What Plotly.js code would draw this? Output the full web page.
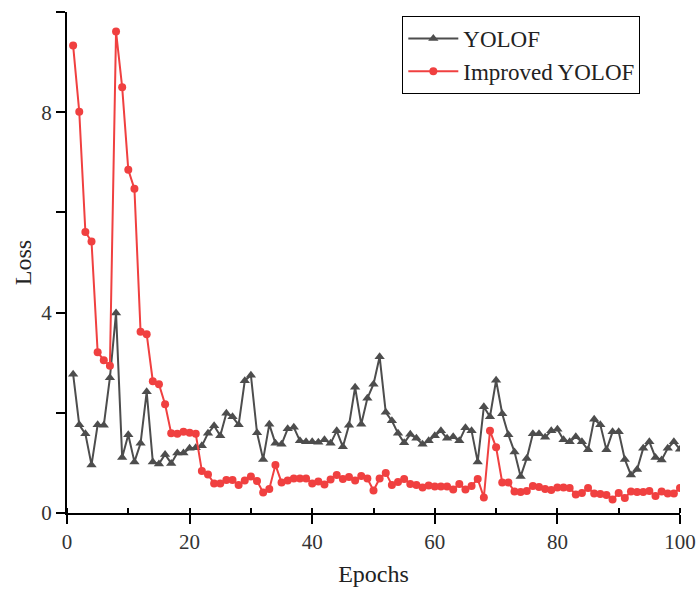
<!DOCTYPE html>
<html>
<head>
<meta charset="utf-8">
<script src="https://cdn.plot.ly/plotly-3.0.1.min.js"></script>
<style>html,body{margin:0;padding:0;background:#fff;}#chart{width:697px;height:590px;}</style>
</head>
<body>
<div id="chart"></div>
<script>
var epochs = [];
for (var i = 1; i <= 100; i++) epochs.push(i);

var yolof = [
2.77,1.76,1.58,0.96,1.76,1.75,2.70,3.99,1.11,1.56,
1.02,1.39,2.42,1.02,0.98,1.17,0.99,1.20,1.20,1.29,
1.30,1.34,1.59,1.74,1.54,1.99,1.92,1.76,2.64,2.75,
1.60,1.07,1.77,1.39,1.37,1.68,1.71,1.44,1.42,1.42,
1.41,1.46,1.39,1.64,1.32,1.75,2.51,1.77,2.29,2.57,
3.12,2.01,1.84,1.59,1.40,1.57,1.49,1.37,1.44,1.54,
1.64,1.49,1.52,1.44,1.70,1.64,1.02,2.12,1.92,2.65,
1.98,1.56,1.22,0.73,1.09,1.58,1.58,1.51,1.64,1.67,
1.46,1.42,1.52,1.42,1.26,1.87,1.76,1.26,1.62,1.62,
1.07,0.76,0.87,1.29,1.42,1.11,1.06,1.29,1.42,1.27
];

var improved = [
9.33,8.01,5.61,5.42,3.21,3.05,2.94,9.61,8.50,6.85,
6.47,3.62,3.57,2.63,2.57,2.17,1.59,1.58,1.62,1.60,
1.58,0.84,0.77,0.59,0.59,0.66,0.66,0.56,0.65,0.73,
0.64,0.41,0.48,0.96,0.61,0.65,0.69,0.69,0.69,0.59,
0.63,0.57,0.67,0.76,0.68,0.72,0.65,0.74,0.69,0.45,
0.69,0.80,0.56,0.62,0.68,0.58,0.56,0.51,0.55,0.53,
0.53,0.53,0.47,0.58,0.47,0.54,0.68,0.31,1.64,1.31,
0.61,0.61,0.43,0.42,0.44,0.54,0.52,0.48,0.46,0.51,
0.51,0.50,0.37,0.40,0.50,0.39,0.38,0.36,0.27,0.40,
0.30,0.43,0.42,0.42,0.44,0.34,0.43,0.39,0.39,0.50
];

var seriesNames = ["YOLOF", "Improved YOLOF"];
var xTickVals = [0, 20, 40, 60, 80, 100];
var yTickVals = [0, 4, 8];

var FONT = "Liberation Serif, DejaVu Serif, serif";

var traces = [
  {
    x: epochs, y: yolof, name: seriesNames[0], type: "scatter", mode: "lines+markers",
    line: {color: "#4d4d4d", width: 2},
    marker: {symbol: "triangle-up", size: 9, color: "#4d4d4d"}
  },
  {
    x: epochs, y: improved, name: seriesNames[1], type: "scatter", mode: "lines+markers",
    line: {color: "#f04040", width: 2},
    marker: {symbol: "circle", size: 8, color: "#f04040"}
  }
];

var layout = {
  width: 697, height: 590,
  margin: {l: 67, r: 17, t: 12, b: 77},
  paper_bgcolor: "#fff", plot_bgcolor: "#fff",
  font: {family: FONT, color: "#222", size: 21},
  showlegend: true,
  legend: {
    x: 0.547, y: 0.992, xanchor: "left", yanchor: "top",
    bordercolor: "#000", borderwidth: 1, bgcolor: "#fff",
    font: {family: FONT, size: 23, color: "#222"},
    tracegroupgap: 0, itemwidth: 50
  },
  xaxis: {
    range: [0, 100], tickvals: xTickVals, ticks: "outside", ticklen: 9, tickwidth: 2,
    tickcolor: "#000", showline: true, linecolor: "#000", linewidth: 2,
    showgrid: false, zeroline: false,
    minor: {dtick: 10, tick0: 0, ticks: "inside", ticklen: 5, tickwidth: 2, tickcolor: "#000", showgrid: false},
    tickfont: {family: FONT, size: 21, color: "#333"},
    title: {text: "Epochs", font: {family: FONT, size: 24, color: "#222"}, standoff: 12}
  },
  yaxis: {
    range: [0, 10], tickvals: yTickVals, ticks: "outside", ticklen: 9, tickwidth: 2,
    tickcolor: "#000", showline: true, linecolor: "#000", linewidth: 2,
    showgrid: false, zeroline: false,
    minor: {dtick: 2, tick0: 0, ticks: "outside", ticklen: 9, tickwidth: 2, tickcolor: "#000", showgrid: false},
    tickfont: {family: FONT, size: 21, color: "#333"},
    title: {text: "Loss", font: {family: FONT, size: 24, color: "#222"}, standoff: 3}
  }
};

Plotly.newPlot("chart", traces, layout, {displayModeBar: false, staticPlot: true});
</script>
</body>
</html>
